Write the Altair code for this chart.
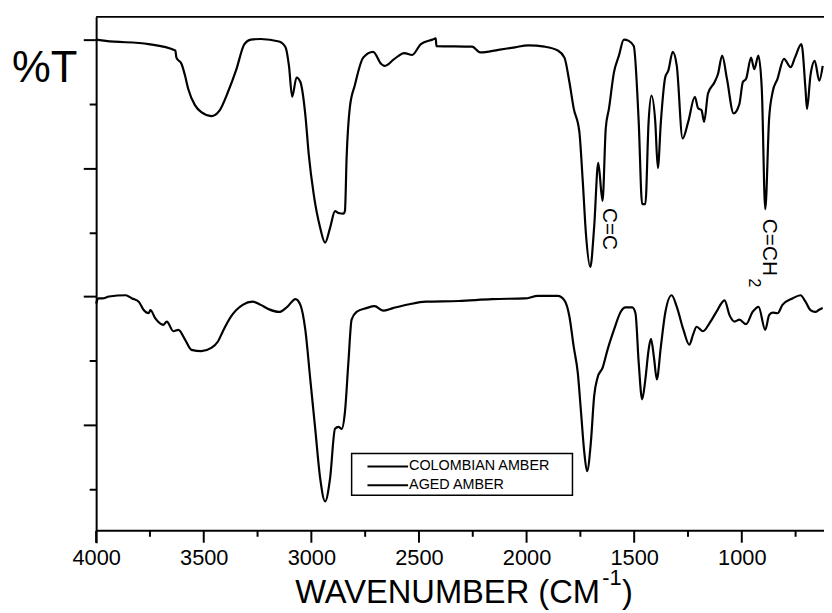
import altair as alt
import pandas as pd

# ---- data (wavenumber in cm-1, %T in plot units) ----
WN_COL = [4000, 3955, 3756, 3632, 3627, 3603, 3587, 3572, 3541, 3511, 3465, 3426, 3388, 3350,
          3311, 3281, 3235, 3150, 3120, 3104, 3089, 3069, 3051, 3028, 3012, 2989, 2959, 2936,
          2913, 2890, 2874, 2851, 2844, 2836, 2821, 2798, 2759, 2713, 2675, 2660, 2614, 2568,
          2532, 2491, 2437, 2422, 2419, 2253, 2215, 2131, 2054, 1993, 1916, 1855, 1824, 1801,
          1781, 1755, 1739, 1724, 1704, 1686, 1667, 1647, 1632, 1617, 1594, 1571, 1548, 1525,
          1502, 1479, 1463, 1448, 1433, 1420, 1402, 1390, 1376, 1356, 1341, 1321, 1302, 1275,
          1249, 1218, 1203, 1187, 1175, 1157, 1126, 1111, 1091, 1069, 1038, 1011, 995, 980,
          957, 942, 923, 907, 891, 873, 857, 834, 804, 773, 753, 723, 704, 697, 681, 661,
          640, 624]
T_COL = [70.0, 69.8, 69.3, 68.3, 67.2, 66.2, 64.4, 62.3, 59.8, 58.7, 58.1, 59.0, 61.8, 65.2,
         69.3, 70.0, 70.1, 69.7, 68.8, 65.9, 61.1, 64.1, 63.4, 58.3, 52.1, 45.9, 40.7, 38.4,
         40.7, 43.3, 43.0, 42.9, 43.3, 51.8, 59.5, 62.9, 67.2, 68.1, 66.2, 65.9, 67.0, 67.9,
         67.6, 69.3, 70.0, 70.2, 69.0, 68.9, 68.0, 68.4, 68.8, 69.1, 68.9, 68.3, 67.2, 63.4,
         59.3, 55.7, 48.0, 39.7, 34.6, 40.8, 50.8, 44.9, 56.2, 59.3, 64.9, 67.5, 70.0, 69.8,
         69.0, 57.2, 44.4, 44.4, 57.2, 61.3, 57.2, 50.0, 57.2, 64.1, 65.2, 68.1, 65.9, 54.6,
         57.2, 61.1, 59.3, 59.0, 57.2, 61.6, 63.4, 64.6, 67.5, 63.9, 58.5, 60.0, 63.4, 63.9,
         67.2, 65.4, 67.5, 62.3, 43.6, 57.7, 61.8, 63.9, 67.0, 65.7, 67.2, 69.3, 62.3, 59.2,
         64.4, 66.7, 63.6, 65.9]

WN_AGED = [4000, 3990, 3971, 3940, 3863, 3833, 3802, 3779, 3756, 3748, 3725, 3687, 3672, 3641,
           3618, 3587, 3557, 3511, 3465, 3434, 3411, 3373, 3319, 3273, 3235, 3196, 3150, 3112,
           3074, 3051, 3028, 3005, 2982, 2959, 2936, 2913, 2890, 2874, 2859, 2844, 2828, 2813,
           2790, 2744, 2706, 2667, 2621, 2545, 2468, 2315, 2161, 2008, 1947, 1855, 1824, 1801,
           1781, 1762, 1747, 1732, 1719, 1701, 1686, 1670, 1647, 1624, 1594, 1563, 1540, 1509,
           1494, 1479, 1463, 1448, 1433, 1422, 1407, 1395, 1376, 1356, 1326, 1302, 1271, 1244,
           1226, 1210, 1180, 1149, 1118, 1080, 1057, 1034, 1011, 980, 950, 922, 891, 873,
           857, 834, 811, 765, 727, 704, 681, 658, 642, 624]
T_AGED = [28.9, 29.7, 29.7, 30.0, 30.2, 29.7, 29.2, 27.9, 27.4, 27.9, 26.6, 25.6, 26.1, 24.6,
          24.8, 23.3, 21.7, 21.5, 22.0, 23.0, 24.6, 26.9, 28.7, 29.2, 28.7, 28.0, 27.6, 28.4,
          29.6, 28.7, 24.8, 17.1, 9.4, 1.7, -1.9, 1.7, 9.4, 9.7, 9.4, 12.0, 19.7, 26.4,
          27.6, 28.2, 28.5, 27.8, 28.2, 28.8, 29.2, 29.3, 29.6, 29.7, 30.1, 30.1, 29.4, 26.9,
          22.2, 18.1, 12.0, 5.8, 2.8, 7.4, 14.5, 17.4, 18.9, 21.7, 24.8, 27.6, 28.3, 28.3,
          27.4, 19.7, 14.0, 17.1, 21.7, 23.4, 20.2, 17.1, 22.2, 27.4, 30.2, 28.4, 24.8, 22.5,
          24.1, 25.3, 24.6, 25.9, 27.6, 29.4, 27.1, 26.1, 26.4, 25.7, 27.6, 28.4, 24.8, 27.1,
          27.5, 27.4, 28.7, 29.7, 30.2, 29.2, 27.9, 27.6, 27.9, 28.2]

SERIES = ["COLOMBIAN AMBER", "AGED AMBER"]
X_MAJOR = [4000, 3500, 3000, 2500, 2000, 1500, 1000]
X_MINOR = [3750, 3250, 2750, 2250, 1750, 1250, 750]
Y_TICKS = [0, 10, 20, 30, 40, 50, 60, 70]
X_DOMAIN = [4000, 618]
Y_DOMAIN = [-8.33, 73.54]   # lower 12 px of the frame hold the x-axis tick marks

ANN_LABEL = ["C=C", "C=CH", "2"]
ANN_WN = [1617, 876, 943]
ANN_T = [43.8, 42.1, 32.8]
ANN_SIZE = [21, 21, 16]

Y_LABEL = "%T"
X_LABEL_MAIN = "WAVENUMBER (CM"
X_LABEL_SUP = "-1"
X_LABEL_END = ")"

W, H = 735, 531
AX = 519            # pixel row of the x-axis line inside the frame
FONT = "Liberation Sans"
INK = "#000000"

df = pd.concat([
    pd.DataFrame({"wn": WN_COL, "t": T_COL, "series": SERIES[0]}),
    pd.DataFrame({"wn": WN_AGED, "t": T_AGED, "series": SERIES[1]}),
], ignore_index=True)

x_scale = alt.Scale(domain=X_DOMAIN, nice=False, zero=False)
y_scale = alt.Scale(domain=Y_DOMAIN, nice=False, zero=False)

x_axis = alt.Axis(
    values=X_MAJOR, format="d", title=None, grid=False, orient="bottom",
    ticks=False, domain=False,
    labelFont=FONT, labelFontSize=22, labelColor=INK, labelPadding=5, labelFlush=False,
)
y_axis = alt.Axis(
    values=Y_TICKS, labels=False, title=None, grid=False,
    tickSize={"condition": {"test": "datum.value % 20 == 10", "value": 13}, "value": 7},
    tickWidth=2, tickColor=INK, domainWidth=2, domainColor=INK,
)

lines = alt.Chart(df).mark_line(strokeWidth=2.2, interpolate="monotone").encode(
    x=alt.X("wn:Q", scale=x_scale, axis=x_axis),
    y=alt.Y("t:Q", scale=y_scale, axis=y_axis),
    color=alt.Color("series:N", scale=alt.Scale(domain=SERIES, range=[INK, INK]), legend=None),
)

ann_df = pd.DataFrame({"wn": ANN_WN, "t": ANN_T, "label": ANN_LABEL, "fs": ANN_SIZE})
ann = alt.Chart(ann_df).mark_text(angle=90, align="left", baseline="middle", font=FONT, color=INK).encode(
    x=alt.X("wn:Q", scale=x_scale),
    y=alt.Y("t:Q", scale=y_scale),
    text="label:N", size=alt.Size("fs:Q", scale=None),
)

one = pd.DataFrame({"k": [0]})

# frame lines: top border and x-axis line
top_border = alt.Chart(one).mark_rule(color=INK, strokeWidth=2).encode(
    x=alt.value(0), x2=alt.value(W), y=alt.value(0)
)
x_axis_line = alt.Chart(one).mark_rule(color=INK, strokeWidth=2).encode(
    x=alt.value(0), x2=alt.value(W), y=alt.value(AX)
)

# x-axis tick marks (major 12 px, minor 6 px) placed through the shared x scale
major_ticks = alt.Chart(pd.DataFrame({"wn": X_MAJOR})).mark_rule(color=INK, strokeWidth=2).encode(
    x=alt.X("wn:Q", scale=x_scale), y=alt.value(AX), y2=alt.value(AX + 12)
)
minor_ticks = alt.Chart(pd.DataFrame({"wn": X_MINOR})).mark_rule(color=INK, strokeWidth=2).encode(
    x=alt.X("wn:Q", scale=x_scale), y=alt.value(AX), y2=alt.value(AX + 6)
)

y_title = alt.Chart(one).mark_text(align="left", baseline="alphabetic", font=FONT, fontSize=44, color=INK).encode(
    x=alt.value(-85), y=alt.value(66), text=alt.value(Y_LABEL)
)
x_title_main = alt.Chart(one).mark_text(align="left", baseline="alphabetic", font=FONT, fontSize=33, color=INK).encode(
    x=alt.value(201), y=alt.value(592), text=alt.value(X_LABEL_MAIN)
)
x_title_sup = alt.Chart(one).mark_text(align="left", baseline="alphabetic", font=FONT, fontSize=22, color=INK).encode(
    x=alt.value(511), y=alt.value(574), text=alt.value(X_LABEL_SUP)
)
x_title_end = alt.Chart(one).mark_text(align="left", baseline="alphabetic", font=FONT, fontSize=33, color=INK).encode(
    x=alt.value(531), y=alt.value(592), text=alt.value(X_LABEL_END)
)

# legend box (drawn by hand to match the boxed legend of the original)
legend_box = alt.Chart(one).mark_rect(fill="white", stroke=INK, strokeWidth=1.5).encode(
    x=alt.value(258), x2=alt.value(481), y=alt.value(441), y2=alt.value(483)
)
legend_layers = [legend_box]
for i, name in enumerate(SERIES):
    row = pd.DataFrame({"series": [name]})
    ypix = 454 + 19 * i
    legend_layers.append(
        alt.Chart(row).mark_rule(color=INK, strokeWidth=2).encode(
            x=alt.value(274), x2=alt.value(315), y=alt.value(ypix)
        )
    )
    legend_layers.append(
        alt.Chart(row).mark_text(align="left", baseline="middle", font=FONT, fontSize=14.5, color=INK).encode(
            x=alt.value(316), y=alt.value(ypix), text="series:N"
        )
    )

chart = alt.layer(
    lines, ann, top_border, x_axis_line, y_title, x_title_main, x_title_sup, x_title_end,
    *legend_layers, major_ticks, minor_ticks
).properties(
    width=W, height=H,
    padding={"left": 89, "top": 6, "right": 0, "bottom": 68},
    autosize=alt.AutoSizeParams(type="none"),
    background="white",
).configure_view(strokeWidth=0)

chart.save("out.html", embed_options={"renderer": "svg", "actions": False})
